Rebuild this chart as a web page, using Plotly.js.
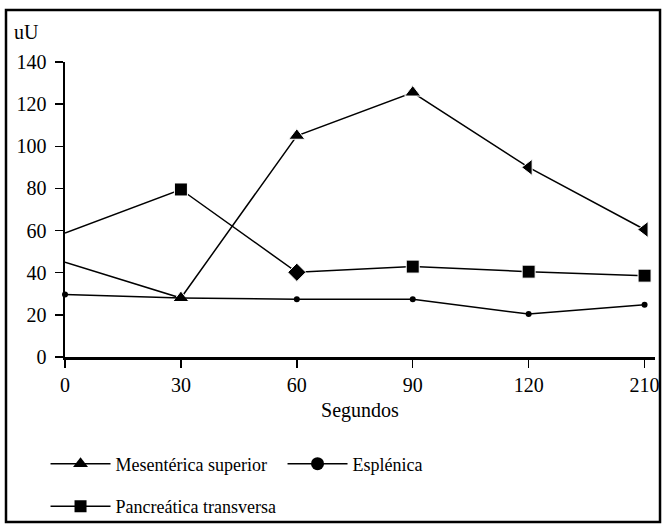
<!DOCTYPE html>
<html><head><meta charset="utf-8">
<script src="https://cdn.plot.ly/plotly-3.0.1.min.js"></script>
<style>body{margin:0;background:#fff}#chart{width:666px;height:527px}</style>
</head><body><div id="chart"></div>
<script>
const categories = ['0','30','60','90','120','210'];
const mesenterica = [45, 28, 105, 125.5, 90, 60.5];
const esplenica = [29.7, 28, 27.4, 27.4, 20.4, 24.8];
const pancreatica = [58.8, 79.5, 40.2, 42.9, 40.5, 38.6];
const yTicks = [0,20,40,60,80,100,120,140];

const F = 'Liberation Serif, Times New Roman, serif';
const ln = {color: '#000', width: 1.5};
const traces = [
  {x: categories, y: mesenterica, name: 'Mesentérica superior', mode: 'lines+markers',
   line: ln, showlegend: false,
   marker: {symbol: ['triangle-up','triangle-up','triangle-up','triangle-up','triangle-left','triangle-left'],
            size: [0,14,14,14,14,14], color: '#000', opacity: 1},
   cliponaxis: false},
  {x: categories, y: esplenica, name: 'Esplénica', mode: 'lines+markers',
   line: ln, showlegend: false,
   marker: {symbol: 'circle', size: 6, color: '#000'}, cliponaxis: false},
  {x: categories, y: pancreatica, name: 'Pancreática transversa', mode: 'lines+markers',
   line: ln, showlegend: false,
   marker: {symbol: ['square','square','diamond','square','square','square'],
            size: [0,13,14,13,13,13], color: '#000', opacity: 1},
   cliponaxis: false},
  // legend entries
  {x: [null], y: [null], name: 'Mesentérica superior', mode: 'lines+markers', line: ln,
   marker: {symbol: 'triangle-up', size: 13, color: '#000'}, legend: 'legend'},
  {x: [null], y: [null], name: 'Esplénica', mode: 'lines+markers', line: ln,
   marker: {symbol: 'circle', size: 13, color: '#000'}, legend: 'legend'},
  {x: [null], y: [null], name: 'Pancreática transversa', mode: 'lines+markers', line: ln,
   marker: {symbol: 'square', size: 12, color: '#000'}, legend: 'legend2'}
];
const legBase = {orientation: 'h', xanchor: 'left', yanchor: 'top', bgcolor: 'rgba(0,0,0,0)',
  entrywidth: 162, itemwidth: 60,
  font: {family: F, size: 18, color: '#000'}};
const layout = {
  width: 666, height: 527,
  margin: {l: 65, r: 11, t: 62, b: 170, autoexpand: false},
  paper_bgcolor: '#fff', plot_bgcolor: '#fff',
  font: {family: F, size: 20, color: '#000'},
  showlegend: true,
  legend: Object.assign({}, legBase, {x: -0.033, y: -0.3}),
  legend2: Object.assign({}, legBase, {x: -0.033, y: -0.444}),
  xaxis: {type: 'category', range: [0, 5.09], showgrid: false, zeroline: false,
          showline: true, linecolor: '#000', linewidth: 2.5,
          ticks: 'outside', ticklen: 8, tickwidth: 1.5, tickcolor: '#000',
          tickfont: {family: F, size: 20},
          title: {text: 'Segundos', font: {family: F, size: 20}, standoff: 9}},
  yaxis: {range: [0, 140], tickvals: yTicks, showgrid: false, zeroline: false,
          showline: true, linecolor: '#000', linewidth: 2.5,
          ticks: 'outside', ticklen: 8, tickwidth: 1.5, tickcolor: '#000',
          ticklabelstandoff: 4,
          tickfont: {family: F, size: 20}},
  annotations: [{text: 'uU', xref: 'paper', yref: 'paper', x: -0.09, y: 1.1017,
                 xanchor: 'left', yanchor: 'middle', showarrow: false,
                 font: {family: F, size: 20}}],
  shapes: [{type: 'rect', xref: 'paper', yref: 'paper', x0: -0.1, x1: 1.0085, y0: -0.559, y1: 1.176,
            line: {color: '#000', width: 2.5}}]
};
Plotly.newPlot('chart', traces, layout, {displayModeBar: false, staticPlot: true});
</script></body></html>
